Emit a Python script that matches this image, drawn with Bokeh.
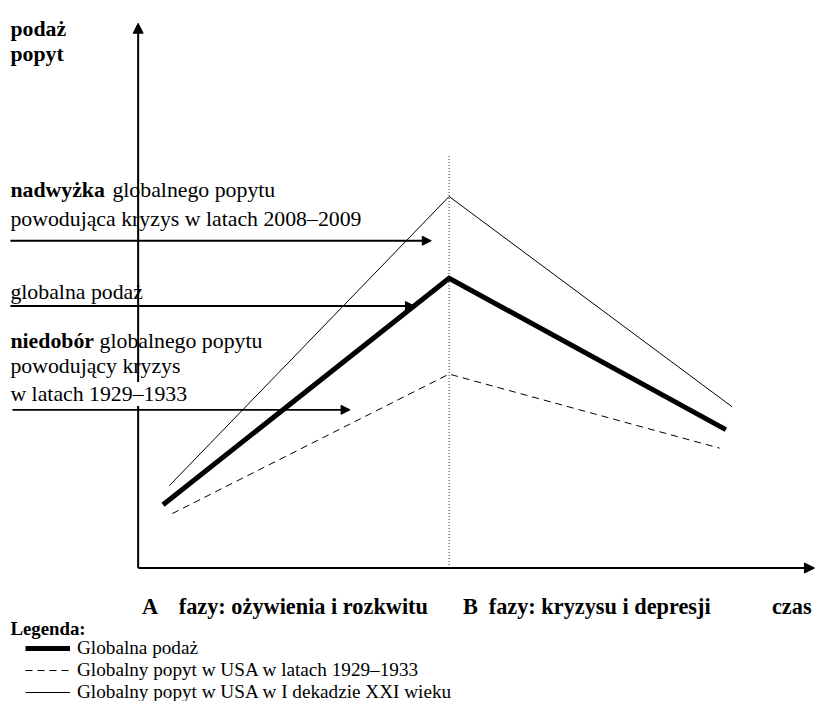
from bokeh.plotting import figure
from bokeh.models import Range1d, Arrow, NormalHead, Label, Legend, LegendItem
from bokeh.core.properties import value
from bokeh.embed import file_html
from bokeh.resources import INLINE

# ---------------- data (schematic units: time t, level y) ----------------
supply_t = [0.8, 10.0, 18.9]          # Globalna podaż
supply_y = [11.6, 53.2, 25.4]
demand_1929_t = [1.1, 10.0, 18.7]     # Globalny popyt w USA 1929–1933
demand_1929_y = [10.0, 35.6, 22.0]
demand_xxi_t = [1.0, 10.0, 19.1]      # Globalny popyt w USA w I dekadzie XXI wieku
demand_xxi_y = [15.1, 68.2, 29.6]
peak_t = 10.0
peak_line_top = 75.7
y_axis_top = 100.0
x_axis_end = 21.75

legend_labels = [
    "Globalna podaż",
    "Globalny popyt w USA w latach 1929–1933",
    "Globalny popyt w USA w I dekadzie XXI wieku",
]

# ---------------- layout helpers ----------------
OX, OY = 139.0, 574.0
PX_T, PX_Y = 31.4, 5.51
def X(px): return (px - OX) / PX_T
def Y(py): return (OY - py) / PX_Y

W, H = 816, 701
x0, x1 = 0, 824
y0, y1 = 0, 709
S = W / (x1 - x0)
def fs(v): return f"{v * S:.1f}px"

FONT = "Liberation Serif"

p = figure(width=W, height=H, x_range=Range1d(X(x0), X(x1)), y_range=Range1d(Y(y1), Y(y0)),
           output_backend="svg", toolbar_location=None, min_border=0,
           x_axis_type=None, y_axis_type=None)
p.outline_line_color = None
p.grid.visible = False
p.background_fill_color = "white"
p.border_fill_color = "white"

# dotted vertical at the peak
p.line([peak_t, peak_t], [0, peak_line_top], line_color="#333333", line_width=1, line_dash="1 2")

r_supply = p.line(supply_t, supply_y, line_color="black", line_width=5, line_join="miter")
r_1929 = p.line(demand_1929_t, demand_1929_y, line_color="black", line_width=1, line_dash="7 5")
r_xxi = p.line(demand_xxi_t, demand_xxi_y, line_color="black", line_width=1)

# axes as arrows
def head(sz):
    return NormalHead(size=sz, fill_color="black", line_color="black", line_width=1)

p.add_layout(Arrow(x_start=0, y_start=0, x_end=0, y_end=y_axis_top, line_width=2,
                   line_color="black", end=head(10)))
p.add_layout(Arrow(x_start=0, y_start=0, x_end=x_axis_end, y_end=0, line_width=2,
                   line_color="black", end=head(10)))

# annotation arrows
for (xs, xe, yy) in [(10, 435, 243), (10, 418, 309), (12, 353, 414)]:
    p.add_layout(Arrow(x_start=X(xs), y_start=Y(yy), x_end=X(xe), y_end=Y(yy), line_width=1.8,
                       line_color="black", end=head(9)))

def txt(px, py, s, size=22, bold=False):
    p.text(x=[X(px)], y=[Y(py)], text=[s], text_font=value(FONT), text_font_size=fs(size),
           text_font_style="bold" if bold else "normal", text_baseline="alphabetic",
           text_align="left", text_color="black")

txt(10, 29, "podaż", bold=True)
txt(10, 54, "popyt", bold=True)

txt(10, 192, "nadwyżka", bold=True)
txt(113, 192, "globalnego popytu")
txt(10, 221, "powodująca kryzys w latach 2008–2009")

txt(10, 295, "globalna podaż")

txt(10, 344, "niedobór", bold=True)
txt(100, 344, "globalnego popytu")
txt(10, 370, "powodujący kryzys")
p.add_layout(Label(x=X(10), y=Y(398), text="w latach 1929–1933", text_font=FONT,
                   text_font_size=fs(22), text_baseline="alphabetic", text_color="black",
                   background_fill_color="white"))

txt(143, 613, "A", size=22.5, bold=True)
txt(180, 613, "fazy: ożywienia i rozkwitu", size=22.5, bold=True)
txt(467, 613, "B", size=22.5, bold=True)
txt(493, 613, "fazy: kryzysu i depresji", size=22.5, bold=True)
txt(779, 613, "czas", size=22.5, bold=True)

txt(10, 635, "Legenda:", size=19, bold=True)

legend = Legend(items=[LegendItem(label=legend_labels[0], renderers=[r_supply]),
                       LegendItem(label=legend_labels[1], renderers=[r_1929]),
                       LegendItem(label=legend_labels[2], renderers=[r_xxi])],
                location=(25, -2), orientation="vertical",
                label_text_font=FONT, label_text_font_size=fs(19.4), label_text_color="black",
                glyph_width=45, glyph_height=20, label_height=20, label_standoff=7,
                spacing=0, padding=0, margin=0,
                border_line_color=None, background_fill_alpha=0)
p.add_layout(legend)

open("out.html", "w").write(file_html(p, INLINE))
